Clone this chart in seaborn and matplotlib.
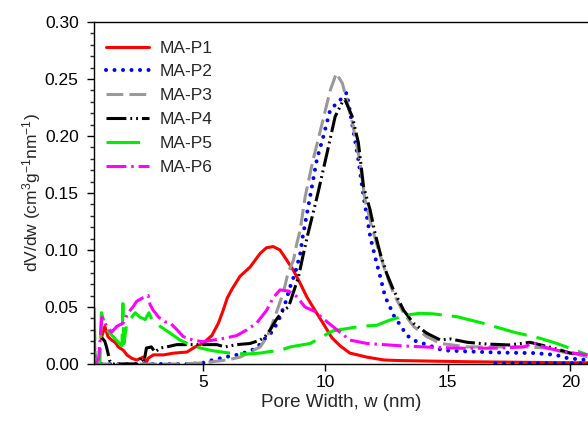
import numpy as np
import pandas as pd
import matplotlib
matplotlib.use("Agg")
import matplotlib.pyplot as plt
import seaborn as sns
from matplotlib.ticker import MultipleLocator, FormatStrFormatter

# ---------------- data ----------------
series_names = ["MA-P1", "MA-P2", "MA-P3", "MA-P4", "MA-P5", "MA-P6"]

p1_x = [0.85, 1.0, 1.13, 1.28, 1.42, 1.55, 1.76, 1.9, 2.1, 2.3, 2.57, 2.69, 2.77, 2.98, 3.4, 3.8,
        4.35, 4.69, 5.0, 5.37, 5.64, 5.83, 6.0, 6.2, 6.52, 6.93, 7.34, 7.6, 7.87, 8.15, 8.43, 8.7,
        8.97, 9.24, 9.58, 9.9, 10.27, 10.6, 11.0, 11.7, 12.4, 13.06, 14.4, 15.8, 18.0, 20.7]
p1_y = [0.022, 0.033, 0.024, 0.021, 0.019, 0.015, 0.012, 0.008, 0.005, 0.0035, 0.006, 0.001, 0.005,
        0.008, 0.008, 0.0095, 0.0105, 0.015, 0.018, 0.025, 0.036, 0.047, 0.058, 0.066, 0.077, 0.085,
        0.097, 0.102, 0.103, 0.100, 0.091, 0.082, 0.071, 0.059, 0.047, 0.036, 0.023, 0.016, 0.0096,
        0.006, 0.0035, 0.003, 0.0025, 0.002, 0.0015, 0.001]

p2_x = [0.56, 0.67, 0.85, 1.5, 3.0, 4.5, 5.0, 5.4, 5.9, 6.39, 6.8, 7.2, 7.47, 7.82, 8.07, 8.36, 8.57,
        8.77, 8.97, 9.08, 9.38, 9.66, 9.9, 10.2, 10.74, 10.87, 11.08, 11.2, 11.35, 11.56, 11.83,
        12.03, 12.24, 12.44, 12.64, 12.78, 13.06, 13.33, 13.7, 14.14, 14.8, 15.8, 17.1, 18.5, 19.4,
        19.9, 20.7, 21.5, 16.6]
p2_y = [0.012, 0.002, 0.0, 0.0, 0.0, 0.0, 0.001, 0.0035, 0.006, 0.008, 0.0105, 0.014, 0.021, 0.028,
        0.037, 0.053, 0.068, 0.080, 0.096, 0.112, 0.147, 0.180, 0.198, 0.223, 0.2345, 0.238, 0.2125,
        0.198, 0.179, 0.147, 0.112, 0.094, 0.0766, 0.059, 0.050, 0.043, 0.034, 0.025, 0.020, 0.017,
        0.012, 0.011, 0.010, 0.0096, 0.008, 0.005, 0.0035, 0.0006, 0.0006]

p3_x = [0.56, 2.0, 4.0, 5.0, 5.98, 6.52, 6.93, 7.34, 7.6, 7.75, 8.0, 8.28, 8.48, 8.7, 8.84, 8.97,
        9.18, 9.5, 9.87, 10.2, 10.45, 10.7, 11.1, 11.4, 11.62, 11.9, 12.17, 12.44, 12.78, 13.2, 13.6,
        14.14, 14.7, 15.8, 17.1, 18.2, 19.0, 19.9, 20.7]
p3_y = [0.0, 0.0, 0.0, 0.001, 0.0035, 0.006, 0.0105, 0.015, 0.023, 0.030, 0.045, 0.062, 0.080,
        0.091, 0.106, 0.117, 0.147, 0.179, 0.211, 0.240, 0.255, 0.246, 0.212, 0.179, 0.144, 0.120,
        0.100, 0.082, 0.062, 0.0445, 0.033, 0.024, 0.018, 0.015, 0.015, 0.015, 0.014, 0.0096, 0.0064]

p4_x = [0.88, 1.0, 1.07, 1.13, 1.2, 1.3, 2.0, 2.36, 2.5, 2.6, 2.7, 2.9, 3.05, 3.26, 3.53, 3.94, 4.75,
        5.57, 5.9, 6.39, 6.93, 7.34, 7.54, 7.75, 8.0, 8.28, 8.5, 8.7, 8.9, 9.1, 9.3, 9.6, 9.7, 10.07,
        10.4, 10.7, 10.8, 11.1, 11.35, 11.56, 11.83, 12.03, 12.24, 12.5, 12.78, 13.2, 13.6, 14.14,
        14.7, 15.1, 15.8, 16.6, 17.5, 18.35, 18.8, 19.3, 20.0, 20.7]
p4_y = [0.023, 0.020, 0.015, 0.0096, 0.003, 0.0, 0.0, 0.0, 0.006, 0.002, 0.014, 0.015, 0.0105, 0.014,
        0.015, 0.017, 0.017, 0.017, 0.015, 0.017, 0.018, 0.021, 0.024, 0.030, 0.039, 0.047, 0.050,
        0.063, 0.076, 0.096, 0.115, 0.141, 0.150, 0.185, 0.217, 0.230, 0.232, 0.217, 0.194, 0.1556,
        0.135, 0.1146, 0.097, 0.0796, 0.065, 0.047, 0.0357, 0.027, 0.021, 0.022, 0.019, 0.0175,
        0.0167, 0.019, 0.0167, 0.014, 0.0096, 0.008]

p5_x = [0.56, 0.62, 0.8, 0.86, 1.08, 1.3, 1.55, 1.7, 1.74, 1.78, 1.9, 2.1, 2.24, 2.44, 2.65, 2.8,
        2.92, 3.26, 3.67, 4.07, 4.48, 4.9, 5.43, 6.1, 6.8, 7.34, 7.6, 8.15, 8.57, 9.38, 10.3, 11.42,
        12.1, 12.64, 13.33, 13.87, 14.4, 15.37, 16.45, 17.68, 18.77, 19.45, 20.0, 20.7]
p5_y = [0.050, 0.0, 0.0, 0.045, 0.030, 0.025, 0.019, 0.016, 0.053, 0.018, 0.036, 0.041, 0.045, 0.041,
        0.039, 0.045, 0.039, 0.033, 0.027, 0.021, 0.017, 0.014, 0.0115, 0.0096, 0.0088, 0.0096,
        0.0105, 0.012, 0.015, 0.018, 0.029, 0.033, 0.034, 0.0386, 0.043, 0.0445, 0.044, 0.0415,
        0.0357, 0.028, 0.0225, 0.018, 0.0137, 0.008]

p6_x = [0.56, 0.62, 0.75, 0.88, 1.08, 1.28, 1.49, 1.76, 1.95, 2.15, 2.3, 2.55, 2.77, 2.85, 2.98, 3.2,
        3.46, 3.67, 3.95, 4.2, 4.6, 5.0, 5.43, 5.98, 6.39, 6.8, 7.2, 7.6, 7.87, 8.15, 8.5, 8.84, 9.17,
        9.58, 9.9, 10.3, 11.0, 11.7, 13.06, 14.4, 15.8, 17.1, 18.1, 18.5, 18.9, 19.45, 20.1, 20.7]
p6_y = [0.030, 0.0, 0.005, 0.041, 0.033, 0.028, 0.033, 0.036, 0.045, 0.050, 0.055, 0.058, 0.060,
        0.052, 0.047, 0.041, 0.037, 0.036, 0.030, 0.024, 0.021, 0.0195, 0.021, 0.023, 0.025, 0.030,
        0.036, 0.047, 0.058, 0.065, 0.064, 0.059, 0.050, 0.046, 0.040, 0.033, 0.021, 0.018, 0.016,
        0.0146, 0.0137, 0.014, 0.015, 0.0184, 0.015, 0.012, 0.0096, 0.008]

x_ticks = [5, 10, 15, 20]
y_ticks = [0.00, 0.05, 0.10, 0.15, 0.20, 0.25, 0.30]

series_x = [p1_x, p2_x, p3_x, p4_x, p5_x, p6_x]
series_y = [p1_y, p2_y, p3_y, p4_y, p5_y, p6_y]

frames = []
for name, xs, ys in zip(series_names, series_x, series_y):
    frames.append(pd.DataFrame({"w": xs, "dvdw": ys, "sample": name, "order": range(len(xs))}))
df = pd.concat(frames, ignore_index=True)

# ---------------- styling ----------------
sns.set_style("ticks")
plt.rcParams["font.family"] = ["Liberation Sans", "DejaVu Sans"]
plt.rcParams["mathtext.fontset"] = "custom"
plt.rcParams["mathtext.rm"] = "Liberation Sans"
plt.rcParams["mathtext.it"] = "Liberation Sans:italic"
plt.rcParams["mathtext.bf"] = "Liberation Sans:bold"

colors = {"MA-P1": "#ff0000", "MA-P2": "#0000ff", "MA-P3": "#999999",
          "MA-P4": "#000000", "MA-P5": "#00ee00", "MA-P6": "#ff00ff"}
styles = {"MA-P1": "-",
          "MA-P2": (0, (0.01, 2.1)),
          "MA-P3": (0, (5.5, 2.0)),
          "MA-P4": (0, (6.5, 1.3, 0.6, 1.3, 0.6, 1.3)),
          "MA-P5": (0, (11, 3.3)),
          "MA-P6": (0, (6.5, 1.6, 0.8, 1.6))}
widths = {"MA-P1": 2.2, "MA-P2": 2.9, "MA-P3": 2.2, "MA-P4": 2.2, "MA-P5": 2.2, "MA-P6": 2.2}

fig = plt.figure(figsize=(5.88, 4.29), dpi=100)
ax = fig.add_axes([94 / 588, 1 - 364 / 429, 1 - 94 / 588, (364 - 22) / 429])

for name in series_names:
    sub = df[df["sample"] == name].sort_values("order")
    sns.lineplot(data=sub, x="w", y="dvdw", sort=False, estimator=None, ax=ax,
                 color=colors[name], lw=widths[name], linestyle=styles[name], label=name)
    line = ax.lines[-1]
    if name == "MA-P2":
        line.set_dash_capstyle("round")

ax.set_xlim(0.56, 20.72)
ax.set_ylim(0.0, 0.30)
ax.set_xticks(x_ticks)
ax.set_yticks(y_ticks)
ax.yaxis.set_minor_locator(MultipleLocator(0.01))
ax.yaxis.set_major_formatter(FormatStrFormatter("%.2f"))
ax.tick_params(axis="both", which="major", direction="out", length=5, width=1,
               labelsize=12.5, colors="black", pad=3)
ax.tick_params(axis="y", which="major", pad=6)
ax.tick_params(axis="y", which="minor", direction="out", length=3, width=1)
for s in ["left", "bottom", "top"]:
    ax.spines[s].set_visible(True)
    ax.spines[s].set_linewidth(1)
    ax.spines[s].set_color("black")
ax.spines["right"].set_visible(False)

ax.set_xlabel("Pore Width, w (nm)", fontsize=13.5, labelpad=3)
ax.set_ylabel("dV/dw (cm$^3$g$^{-1}$nm$^{-1}$)", fontsize=12.5, labelpad=1)

ax.legend(loc="upper left", bbox_to_anchor=(0.025, 0.946), frameon=False,
          handlelength=2.45, handletextpad=0.6, labelspacing=0.5, borderpad=0,
          borderaxespad=0, fontsize=12.5)

fig.savefig("out.png", dpi=100)
